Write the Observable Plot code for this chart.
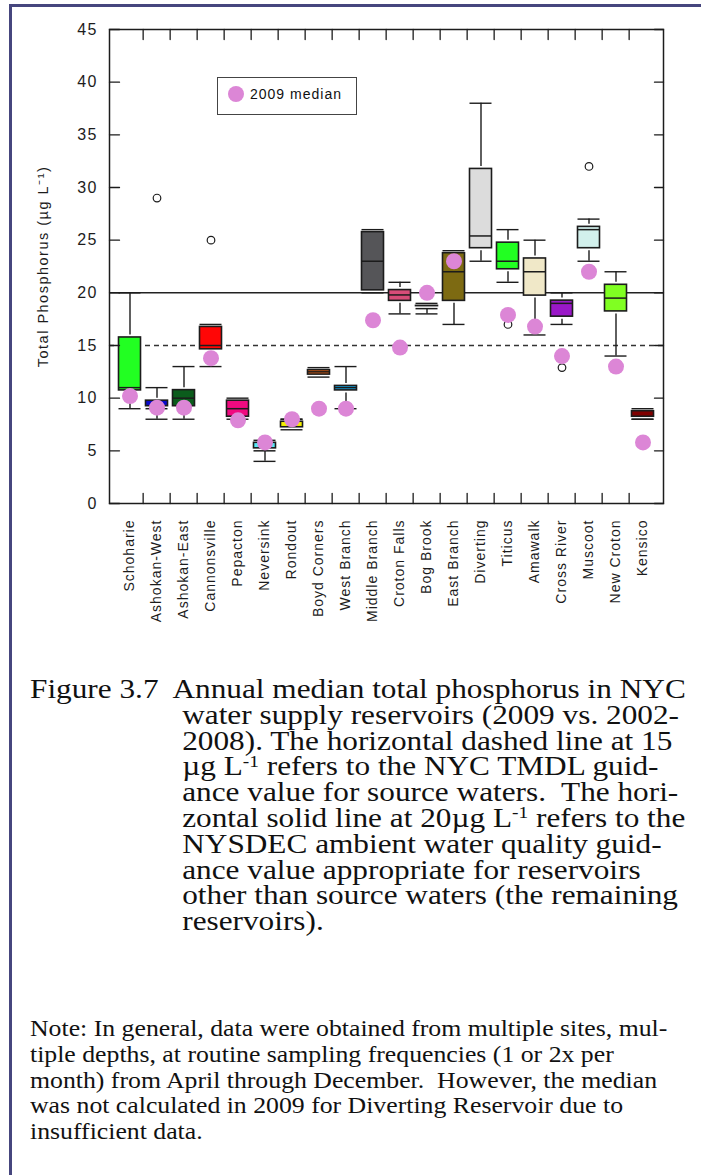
<!DOCTYPE html>
<html>
<head>
<meta charset="utf-8">
<script src="https://cdn.jsdelivr.net/npm/d3@7"></script>
<script src="https://cdn.jsdelivr.net/npm/@observablehq/plot@0.6"></script>
<style>
  html, body { margin: 0; padding: 0; background: #fff; }
  #page { position: relative; width: 701px; height: 1175px; overflow: hidden; background: #fff; }
  .edge-top { position: absolute; left: 9px; top: 4px; width: 692px; height: 3px; background: #46467e; }
  .edge-left { position: absolute; left: 9px; top: 4px; width: 3px; height: 1171px; background: #46467e; }
  #chart { position: absolute; left: 0; top: 0; }
  #legend {
    position: absolute; left: 217px; top: 77px; width: 140px; height: 38px;
    box-sizing: border-box; border: 1.5px solid #444; background: #fff;
    font: 14px "Liberation Sans", Arial, sans-serif; letter-spacing: 1px; color: #111;
  }
  #legend .swatch { position: absolute; left: 10px; top: 8px; width: 16px; height: 16px; border-radius: 50%; background: #dc86d6; }
  #legend .label { position: absolute; left: 32px; top: 8px; line-height: 16px; }
  .caption, .note {
    position: absolute; left: 30px; font-family: "Liberation Serif", "Times New Roman", serif;
    color: #111; transform-origin: 0 0; white-space: pre;
  }
  .caption { top: 677px; font-size: 26.5px; line-height: 25.8px; transform: scaleX(1.18); }
  .note { top: 1016px; font-size: 23px; line-height: 25.8px; transform: scaleX(1.12); }
  .caption .indent { padding-left: 129px; }
  sup { font-size: 0.62em; line-height: 0; vertical-align: 0; position: relative; top: -0.52em; }
  svg g[aria-label="y-axis tick label"] text { letter-spacing: 1.5px; }
  svg g.xlab text { letter-spacing: 1px; }
  svg g.ylab text { letter-spacing: 1.5px; }
</style>
</head>
<body>
<div id="page">
  <div id="chart"></div>
  <div id="legend"><div class="swatch"></div><div class="label">2009 median</div></div>
  <div class="caption"><div>Figure 3.7  Annual median total phosphorus in NYC</div><div class="indent">water supply reservoirs (2009 vs. 2002-</div><div class="indent">2008). The horizontal dashed line at 15</div><div class="indent">µg L<sup>-1</sup> refers to the NYC TMDL guid-</div><div class="indent">ance value for source waters.  The hori-</div><div class="indent">zontal solid line at 20µg L<sup>-1</sup> refers to the</div><div class="indent">NYSDEC ambient water quality guid-</div><div class="indent">ance value appropriate for reservoirs</div><div class="indent">other than source waters (the remaining</div><div class="indent">reservoirs).</div></div>
  <div class="note"><div>Note: In general, data were obtained from multiple sites, mul-</div><div>tiple depths, at routine sampling frequencies (1 or 2x per</div><div>month) from April through December.  However, the median</div><div>was not calculated in 2009 for Diverting Reservoir due to</div><div>insufficient data.</div></div>
  <div class="edge-top"></div>
  <div class="edge-left"></div>
</div>
<script>
// Reservoirs, west of Hudson first, then the Croton system and Kensico
const names = ["Schoharie", "Ashokan-West", "Ashokan-East", "Cannonsville", "Pepacton",
  "Neversink", "Rondout", "Boyd Corners", "West Branch", "Middle Branch", "Croton Falls",
  "Bog Brook", "East Branch", "Diverting", "Titicus", "Amawalk", "Cross River", "Muscoot",
  "New Croton", "Kensico"];

// 2002-2008 annual median total phosphorus (µg/L): box-and-whisker summaries
const whiskerLow  = [9,  8,  8, 13, 8, 4, 7, 12,   9,  20, 18, 18,   17, 23, 21, 16, 17,   23, 14, 8];
const quartile1   = [10.5, 9, 9, 14.4, 8, 5, 7, 12, 10.5, 20, 19, 18.5, 19, 24, 22, 19.5, 17.5, 24, 18, 8];
const medianPrior = [11, 9, 10, 15, 9, 5, 8, 12.5, 11, 23, 19.8, 18.5, 22, 25.4, 23, 22, 19, 26, 19.5, 8];
const quartile3   = [16, 10, 11, 17, 10, 6, 8, 12.9, 11.4, 26, 20.5, 19, 24, 32, 25, 23.5, 19.5, 26.5, 21, 9];
const whiskerHigh = [20, 11, 13, 17, 10, 6, 8, 12.9, 13, 26, 21, 19, 24, 38, 26, 25, 20, 27, 22, 9];

// 2009 annual medians (no value for Diverting)
const median2009 = [10.2, 9.1, 9.1, 13.8, 7.9, 5.8, 8.0, 9.0, 9.0, 17.4, 14.8, 20, 23, null, 17.9, 16.8, 14, 22, 13, 5.8];

// Outlying annual medians
const outlierNames  = ["Ashokan-West", "Cannonsville", "Titicus", "Cross River", "Muscoot"];
const outlierValues = [29, 25, 17, 12.9, 32];

const boxColors = ["#22ff22", "#0a0acc", "#0b5c1c", "#ff0606", "#f00a80", "#56e8f4", "#f4f000",
  "#f06412", "#12a8e8", "#555558", "#d84c78", "#ffdc44", "#7d6a12", "#dcdcdc", "#22ff22",
  "#f0e8c8", "#9a18c8", "#d2f0ec", "#80ff22", "#800000"];

// Guidance values (µg/L)
const tmdlLevel = [15];
const nysdecLevel = [20];

const yTicks = [0, 5, 10, 15, 20, 25, 30, 35, 40, 45];
const yLabel = "Total Phosphorus (µg L⁻¹)";

const stats = names.map((name, i) => ({
  name, low: whiskerLow[i], q1: quartile1[i], med: medianPrior[i],
  q3: quartile3[i], high: whiskerHigh[i], m2009: median2009[i], color: boxColors[i]
}));
const outliers = outlierNames.map((name, i) => ({name, value: outlierValues[i]}));

const width = 701, height = 645;
const marginLeft = 109, marginRight = 38, marginTop = 29, marginBottom = 142;
const bandWidth = (width - marginLeft - marginRight) / names.length;
const ink = "#1c1c1c";
const boxInset = 2.5;

// straight tick stub used for inward-facing frame ticks
const tickLine = {draw(context, l) { context.moveTo(0, 0); context.lineTo(0, -l); }};
const frameTick = {length: 10, anchor: "start", shape: tickLine, stroke: ink, strokeWidth: 1.3};

const chart = Plot.plot({
  width, height, marginLeft, marginRight, marginTop, marginBottom,
  style: {fontFamily: '"Liberation Sans", Arial, sans-serif', fontSize: "14px", color: ink, background: "transparent", overflow: "visible"},
  x: {type: "band", domain: names, padding: 0, axis: null},
  y: {domain: [0, 45], axis: null},
  color: {type: "identity"},
  marks: [
    Plot.ruleY(tmdlLevel, {stroke: "#333", strokeWidth: 1.3, strokeDasharray: "5,4"}),
    Plot.ruleY(nysdecLevel, {stroke: "#222", strokeWidth: 1.5}),
    // whiskers
    Plot.ruleX(stats, {x: "name", y1: "low", y2: "q1", stroke: ink, strokeWidth: 1.4}),
    Plot.ruleX(stats, {x: "name", y1: "q3", y2: "high", stroke: ink, strokeWidth: 1.4}),
    Plot.tickY(stats, {x: "name", y: "low", inset: boxInset, stroke: ink, strokeWidth: 1.4}),
    Plot.tickY(stats, {x: "name", y: "high", inset: boxInset, stroke: ink, strokeWidth: 1.4}),
    // interquartile boxes
    Plot.barY(stats, {x: "name", y1: "q1", y2: "q3", fill: "color", stroke: ink, strokeWidth: 1.6, inset: boxInset}),
    Plot.tickY(stats, {x: "name", y: "med", inset: boxInset, stroke: ink, strokeWidth: 1.5}),
    // outliers
    Plot.dot(outliers, {x: "name", y: "value", r: 3.8, stroke: ink, fill: "#fff", strokeWidth: 1.2}),
    // 2009 medians
    Plot.dot(stats.filter(d => d.m2009 != null), {x: "name", y: "m2009", r: 8, fill: "#dc86d6"}),
    // frame with inward ticks
    Plot.frame({stroke: ink, strokeWidth: 1.5}),
    Plot.vector(names.slice(1), {x: d => d, frameAnchor: "top", dx: -bandWidth / 2, rotate: 180, ...frameTick}),
    Plot.vector(names.slice(1), {x: d => d, frameAnchor: "bottom", dx: -bandWidth / 2, rotate: 0, ...frameTick}),
    Plot.vector(yTicks, {y: d => d, frameAnchor: "left", rotate: 90, ...frameTick}),
    Plot.vector(yTicks, {y: d => d, frameAnchor: "right", rotate: -90, ...frameTick, length: 9}),
    // tick labels
    Plot.axisY(yTicks, {tickSize: 0, tickPadding: 11.5, fontSize: 16, label: null, fill: ink}),
    Plot.text(names, {x: d => d, frameAnchor: "bottom", dy: 16, rotate: -90, textAnchor: "end", lineAnchor: "middle", fontSize: 14, fill: ink, className: "xlab"}),
    Plot.text([yLabel], {frameAnchor: "left", dx: -66, rotate: -90, textAnchor: "middle", lineAnchor: "middle", text: d => d, fontSize: 14.5, fill: ink, className: "ylab"})
  ]
});
document.getElementById("chart").appendChild(chart);
</script>
</body>
</html>
